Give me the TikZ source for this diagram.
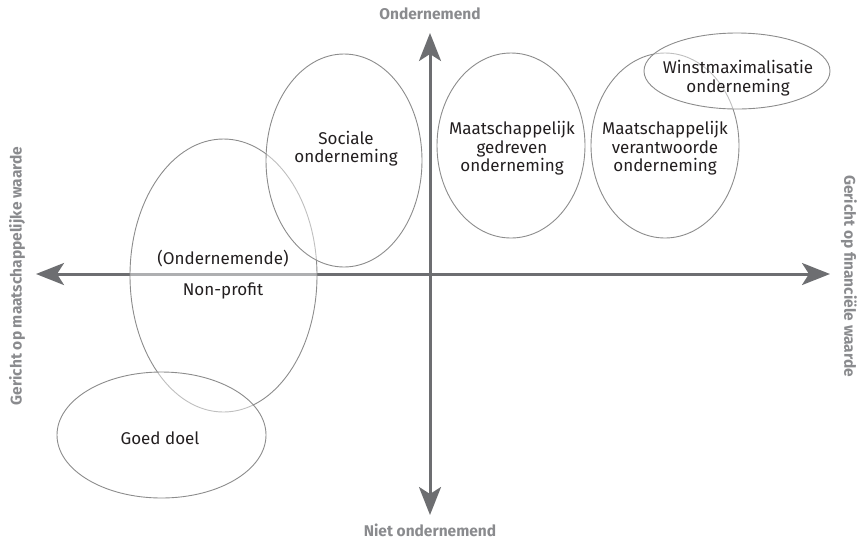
\documentclass[tikz,border=0pt]{standalone}
\usepackage{fontspec}
\setmainfont{Fira Sans}
\usetikzlibrary{arrows.meta,shapes.geometric}
\definecolor{axisgray}{HTML}{6D6E71}
\definecolor{labgray}{HTML}{8A8B8E}
\definecolor{ellgray}{HTML}{8C8C8C}
\definecolor{txt}{HTML}{231F20}
\tikzset{
  axisline/.style={draw=axisgray, line width=3pt, -{Stealth[length=28pt,width=22pt,inset=7pt]}},
  axislabel/.style={text=labgray, font=\fontsize{15.5}{18}\selectfont\bfseries, inner sep=0pt},
  ell/.style={ellipse, draw=ellgray, line width=0.9pt, fill=white, fill opacity=0.45, inner sep=0pt, outer sep=0pt},
  lab/.style={text=txt, align=center, inner sep=0pt, font=\fontsize{17}{18.5}\selectfont},
}
\begin{document}
\begin{tikzpicture}[x=1pt,y=-1pt]
\useasboundingbox (0,0) rectangle (859,542);
% axes
\coordinate (top) at (430,33);
\coordinate (bot) at (430,515);
\coordinate (lft) at (36,274);
\coordinate (rgt) at (830,274);
\coordinate (ctr) at (430,274);
\draw[axisline] (ctr) -- (top);
\draw[axisline] (ctr) -- (bot);
\draw[axisline] (ctr) -- (lft);
\draw[axisline] (ctr) -- (rgt);
% ellipses
\node[ell, minimum width=187pt, minimum height=273pt] (np) at (223.5,275.5) {};
\node[ell, minimum width=156pt, minimum height=213pt] (soc) at (344,160.5) {};
\node[ell, minimum width=209pt, minimum height=126pt] (gd) at (161.5,435) {};
\node[ell, minimum width=148pt, minimum height=185pt] (mg) at (511,145.5) {};
\node[ell, minimum width=148pt, minimum height=185pt] (mv) at (665,145.5) {};
\node[ell, minimum width=186pt, minimum height=76pt] (wm) at (737,71) {};
% labels
\node[lab] (tsoc) at (346,148.5) {Sociale\\onderneming};
\node[lab] (tmg) at (512,148.5) {Maatschappelijk\\gedreven\\onderneming};
\node[lab] (tmv) at (665,148.5) {Maatschappelijk\\verantwoorde\\onderneming};
\node[lab] (twm) at (738,78) {Winstmaximalisatie\\onderneming};
\node[lab] (tond) at (223,259) {(Ondernemende)};
\node[lab] (tnp) at (223,291) {Non-profit};
\node[lab] (tgd) at (160,438) {Goed doel};
% axis labels
\node[axislabel] (lup) at (430,14) {Ondernemend};
\node[axislabel] (ldn) at (430,530) {Niet ondernemend};
\node[axislabel, rotate=90] (llf) at (17,276) {Gericht op maatschappelijke waarde};
\node[axislabel, rotate=-90] (lrt) at (849,276) {Gericht op financiële waarde};
\end{tikzpicture}
\end{document}
